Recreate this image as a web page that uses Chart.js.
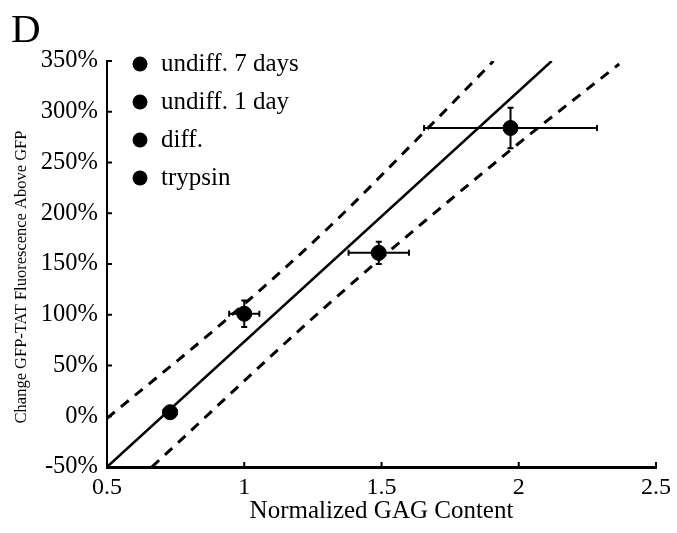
<!DOCTYPE html>
<html>
<head>
<meta charset="utf-8">
<script src="https://cdn.jsdelivr.net/npm/chart.js@4.4.0/dist/chart.umd.min.js"></script>
<style>
  html, body { margin: 0; padding: 0; background: #fff; }
  #wrap { width: 677px; height: 533px; }
</style>
</head>
<body>
<div id="wrap"><canvas id="chart" width="677" height="533"></canvas></div>
<script>
// Données
const groups = ["undiff. 7 days", "undiff. 1 day", "diff.", "trypsin"];
const gagContent = [1.97, 1.49, 1.0, 0.73];
const gagError = [0.315, 0.11, 0.055, 0.025];
const fluorChange = [284, 161, 101, 4];
const fluorError = [20, 11, 13, 4];

// Droite de régression et bandes de confiance
const fitX = [0.5, 2.12];
const fitY = [-50, 350];
const upperX = [0.5, 0.934, 1.3, 1.648, 1.908];
const upperY = [-2, 95, 184, 278, 350];
const lowerX = [0.663, 1.309, 1.969, 2.366];
const lowerY = [-50, 111, 262, 347];

const xTickLabels = ["0.5", "1", "1.5", "2", "2.5"];
const yTickLabels = ["-50%", "0%", "50%", "100%", "150%", "200%", "250%", "300%", "350%"];

const panelLabel = "D";
const xTitle = "Normalized GAG Content";
const yTitle = "Change GFP-TAT Fluorescence Above GFP";

const serif = "'Liberation Serif', 'DejaVu Serif', serif";

function toPoints(xs, ys) {
  return xs.map((v, i) => ({ x: v, y: ys[i] }));
}

// Barres d'erreur (x et y)
const errorBars = {
  id: "errorBars",
  beforeDatasetsDraw(chart) {
    const { ctx, scales: { x, y } } = chart;
    ctx.save();
    ctx.strokeStyle = "#000";
    ctx.lineWidth = 2;
    groups.forEach((g, i) => {
      const cx = x.getPixelForValue(gagContent[i]);
      const cy = y.getPixelForValue(fluorChange[i]);
      const x0 = x.getPixelForValue(gagContent[i] - gagError[i]);
      const x1 = x.getPixelForValue(gagContent[i] + gagError[i]);
      const y0 = y.getPixelForValue(fluorChange[i] - fluorError[i]);
      const y1 = y.getPixelForValue(fluorChange[i] + fluorError[i]);
      ctx.beginPath();
      ctx.moveTo(x0, cy); ctx.lineTo(x1, cy);
      ctx.moveTo(x0, cy - 3); ctx.lineTo(x0, cy + 3);
      ctx.moveTo(x1, cy - 3); ctx.lineTo(x1, cy + 3);
      ctx.moveTo(cx, y0); ctx.lineTo(cx, y1);
      ctx.moveTo(cx - 3, y0); ctx.lineTo(cx + 3, y0);
      ctx.moveTo(cx - 3, y1); ctx.lineTo(cx + 3, y1);
      ctx.stroke();
    });
    ctx.restore();
  },
};

// Légende, graduations intérieures, titres
const decorations = {
  id: "decorations",
  afterDraw(chart) {
    const { ctx, chartArea, scales: { x, y } } = chart;
    ctx.save();
    ctx.strokeStyle = "#000";
    ctx.lineWidth = 2;
    ctx.beginPath();
    y.ticks.forEach((t) => {
      const py = y.getPixelForValue(t.value);
      ctx.moveTo(chartArea.left, py);
      ctx.lineTo(chartArea.left + 5, py);
    });
    x.ticks.forEach((t) => {
      const px = x.getPixelForValue(t.value);
      ctx.moveTo(px, chartArea.bottom);
      ctx.lineTo(px, chartArea.bottom - 5);
    });
    ctx.stroke();

    // légende
    ctx.fillStyle = "#000";
    ctx.font = "25px " + serif;
    ctx.textBaseline = "middle";
    ctx.textAlign = "left";
    groups.forEach((g, i) => {
      const ly = chartArea.top + 3 + i * 38;
      ctx.beginPath();
      ctx.arc(chartArea.left + 33, ly, 7.5, 0, Math.PI * 2);
      ctx.fill();
      ctx.fillText(g, chartArea.left + 54, ly);
    });

    // lettre du panneau
    ctx.font = "41px " + serif;
    ctx.textBaseline = "alphabetic";
    ctx.fillText(panelLabel, 11, 42);

    // titre de l'axe y
    ctx.font = "16.5px " + serif;
    ctx.textAlign = "center";
    ctx.textBaseline = "middle";
    ctx.translate(22, 277);
    ctx.rotate(-Math.PI / 2);
    ctx.fillText(yTitle, 0, 0);
    ctx.restore();
  },
};

const pointSets = groups.map((g, i) => ({
  type: "scatter",
  label: g,
  data: [{ x: gagContent[i], y: fluorChange[i] }],
  backgroundColor: "#000",
  borderColor: "#000",
  pointRadius: 7.5,
  pointHoverRadius: 7.5,
}));

const lineStyle = {
  type: "line",
  borderColor: "#000",
  borderWidth: 2.5,
  pointRadius: 0,
  fill: false,
  cubicInterpolationMode: "monotone",
};

const ctx = document.getElementById("chart").getContext("2d");
const chart = new Chart(ctx, {
  data: {
    datasets: [
      { ...lineStyle, label: "fit", data: toPoints(fitX, fitY) },
      { ...lineStyle, label: "upper", data: toPoints(upperX, upperY), borderDash: [10, 8], borderWidth: 3 },
      { ...lineStyle, label: "lower", data: toPoints(lowerX, lowerY), borderDash: [10, 8], borderWidth: 3 },
      ...pointSets,
    ],
  },
  options: {
    responsive: false,
    animation: false,
    layout: { padding: { left: 0, right: 19, top: 61, bottom: 0 } },
    plugins: {
      legend: { display: false },
      tooltip: { enabled: false },
    },
    scales: {
      x: {
        type: "linear",
        min: 0.5,
        max: 2.5,
        ticks: {
          stepSize: 0.5,
          padding: 6,
          color: "#000",
          font: { family: serif, size: 24 },
          maxRotation: 0,
          callback: (v, i) => xTickLabels[i],
        },
        grid: { display: false, drawTicks: false },
        border: { display: true, color: "#000", width: 3 },
        title: {
          display: true,
          text: xTitle,
          color: "#000",
          font: { family: serif, size: 25 },
          padding: { top: 0, bottom: 7 },
        },
        afterFit(scale) { scale.height = 66; },
      },
      y: {
        type: "linear",
        min: -50,
        max: 350,
        ticks: {
          stepSize: 50,
          padding: 9,
          color: "#000",
          font: { family: serif, size: 24.5 },
          callback: (v, i) => yTickLabels[i],
        },
        grid: { display: false, drawTicks: false },
        border: { display: true, color: "#000", width: 2 },
        afterFit(scale) { scale.width = 107; },
      },
    },
  },
  plugins: [errorBars, decorations],
});
</script>
</body>
</html>
